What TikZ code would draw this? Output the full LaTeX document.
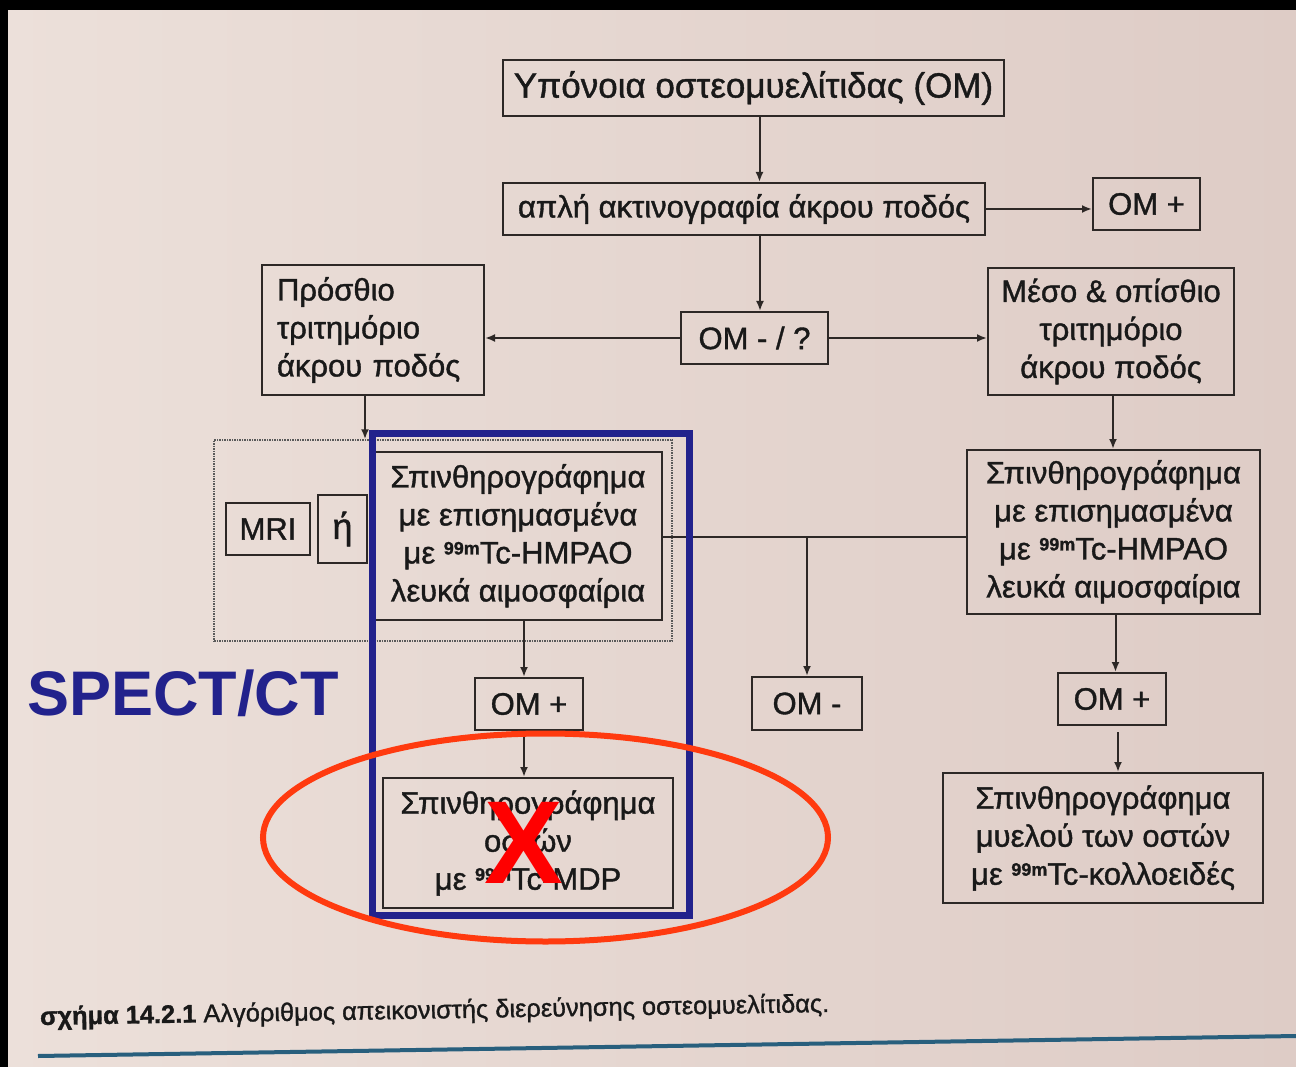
\documentclass[tikz,border=0pt]{standalone}
\usepackage{fontspec}
\setmainfont{Liberation Sans}
\newfontfamily\boxfont{Liberation Sans}[FakeBold=1.2]
\usetikzlibrary{arrows.meta,calc}
\definecolor{pagebg}{RGB}{236,224,218}
\definecolor{pagebgR}{RGB}{222,204,198}
\definecolor{boxline}{RGB}{45,40,38}
\definecolor{spectblue}{RGB}{34,34,140}
\definecolor{ellred}{RGB}{255,58,15}
\definecolor{capline}{RGB}{40,95,125}
\newcommand{\nnm}{\raisebox{0.55ex}{\bfseries\fontsize{18}{18}\selectfont 99m}}
\tikzset{
  fbox/.style={draw=boxline, line width=2pt, inner sep=0pt, align=center,
    font=\boxfont\fontsize{31}{38}\selectfont, text=black!90},
  conn/.style={draw=boxline, line width=2pt},
  arr/.style={conn, -{Latex[length=10pt,width=8pt]}},
}
\begin{document}
\begin{tikzpicture}[x=1pt,y=-1pt]
\useasboundingbox (0,0) rectangle (1296,1067);
\shade[left color=pagebg, right color=pagebgR] (0,0) rectangle (1296,1067);
\fill[black] (0,0) rectangle (1296,10);
\fill[black] (0,0) rectangle (8,1067);

% dotted group
\node[draw=gray!70!black, densely dotted, line width=1.5pt, minimum width=458pt, minimum height=201pt, inner sep=0pt] (grp) at (443,540.5) {};

\node[fbox, minimum width=501pt, minimum height=56pt, font=\boxfont\fontsize{35}{38}\selectfont] (susp) at (753.5,88) {Υπόνοια οστεομυελίτιδας (ΟΜ)};
\node[fbox, minimum width=482pt, minimum height=52pt, font=\boxfont\fontsize{31}{38}\selectfont] (xray) at (744,209) {απλή ακτινογραφία άκρου ποδός};
\node[fbox, minimum width=107pt, minimum height=52pt] (omp1) at (1146.5,204) {ΟΜ +};
\node[fbox, minimum width=147pt, minimum height=52pt] (omq) at (754.5,338) {ΟΜ - / ?};
\node[fbox, minimum width=222pt, minimum height=130pt, align=left, text width=192pt] (ant) at (373,330) {Πρόσθιο\\τριτημόριο\\άκρου ποδός};
\node[fbox, minimum width=246pt, minimum height=127pt] (mid) at (1111,331.5) {Μέσο \& οπίσθιο\\τριτημόριο\\άκρου ποδός};
\node[fbox, minimum width=84pt, minimum height=52pt] (mri) at (268,529) {MRI};
\node[fbox, minimum width=49pt, minimum height=68pt, font=\boxfont\fontsize{36}{40}\selectfont] (eta) at (342.5,529) {ή};
\node[fbox, minimum width=288pt, minimum height=168pt] (wbcL) at (518,536) {Σπινθηρογράφημα\\με επισημασμένα\\με \nnm Tc-HMPAO\\λευκά αιμοσφαίρια};
\node[fbox, minimum width=293pt, minimum height=164pt] (wbcR) at (1113.5,532) {Σπινθηρογράφημα\\με επισημασμένα\\με \nnm Tc-HMPAO\\λευκά αιμοσφαίρια};
\node[fbox, minimum width=108pt, minimum height=52pt] (ompL) at (529,704) {ΟΜ +};
\node[fbox, minimum width=110pt, minimum height=53pt] (omm) at (807,703.5) {ΟΜ -};
\node[fbox, minimum width=108pt, minimum height=52pt] (ompR) at (1112,699) {ΟΜ +};
\node[fbox, minimum width=290pt, minimum height=130pt] (mdp) at (528,843) {Σπινθηρογράφημα\\οστών\\με \nnm Tc-MDP};
\node[fbox, minimum width=320pt, minimum height=130pt] (marrow) at (1103,838) {Σπινθηρογράφημα\\μυελού των οστών\\με \nnm Tc-κολλοειδές};

% connector anchor points
\coordinate (a1) at ($(susp.south)+(6,0)$);
\coordinate (a2) at ($(xray.south)+(16,0)$);
\coordinate (a3) at ($(ant.south)+(-8,0)$);
\coordinate (a4) at ($(mid.south)+(2,0)$);
\coordinate (a5) at ($(wbcR.south)+(2,0)$);
\coordinate (a6) at ($(ompR.south)+(6,6)$);
\coordinate (a7) at ($(wbcL.south)+(6,0)$);
\coordinate (a8) at ($(ompL.south)+(-5,6)$);
\coordinate (h1) at ($(wbcL.east)+(0,1)$);
\coordinate (br) at (omm.north |- h1);

% connectors
\draw[arr] (a1) -- (a1 |- xray.north);
\draw[arr] (xray.east) -- (xray.east -| omp1.west);
\draw[arr] (a2) -- (a2 |- omq.north);
\draw[arr] (omq.west) -- (omq.west -| ant.east);
\draw[arr] (omq.east) -- (omq.east -| mid.west);
\draw[arr] (a3) -- (a3 |- grp.north);
\draw[arr] (a4) -- (a4 |- wbcR.north);
\draw[conn] (h1) -- (h1 -| wbcR.west);
\draw[arr] (br) -- (omm.north);
\draw[arr] (a5) -- (a5 |- ompR.north);
\draw[arr] (a6) -- (a6 |- marrow.north);
\draw[arr] (a7) -- (a7 |- ompL.north);
\draw[arr] (a8) -- (a8 |- mdp.north);

% annotations
\node[draw=spectblue, line width=7pt, minimum width=317.5pt, minimum height=482pt, inner sep=0pt] (bluebox) at (530.75,674.5) {};
\draw[ellred, line width=6pt] (545.5,837.5) ellipse [x radius=282.5, y radius=104];
\node[text=red, font=\bfseries\fontsize{118}{118}\selectfont, inner sep=0pt] (xmark) at (524,843) {X};
\node[text=spectblue, font=\bfseries\fontsize{63}{63}\selectfont, anchor=west, inner sep=0pt] (spect) at (27,693) {SPECT/CT};

% caption
\node[anchor=base west, inner sep=0pt, rotate=0.95, font=\boxfont\fontsize{25.4}{25.4}\selectfont, text=black!90] (cap) at (40,1025) {\textbf{σχήμα 14.2.1} Αλγόριθμος απεικονιστής διερεύνησης οστεομυελίτιδας.};
\coordinate (lineL) at (38,1056);
\coordinate (lineR) at (1296,1036);
\draw[capline, line width=4pt] (lineL) -- (lineR);
\end{tikzpicture}
\end{document}
